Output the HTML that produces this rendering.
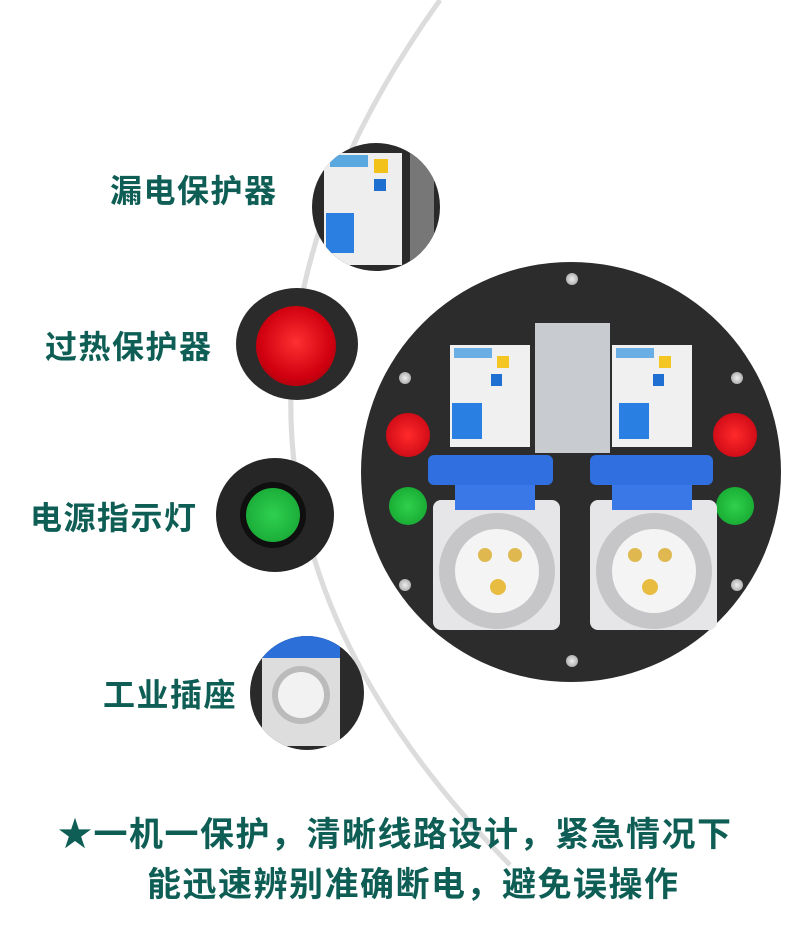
<!DOCTYPE html>
<html><head><meta charset="utf-8"><style>
body{margin:0;width:788px;height:944px;background:#fff;position:relative;overflow:hidden;font-family:"Liberation Sans","Noto Sans CJK SC",sans-serif}
.a{position:absolute}
.lab{position:absolute;color:#0e5e55;font-weight:bold;font-size:32px;letter-spacing:1.5px;white-space:nowrap;line-height:1}
.c{border-radius:50%}
.screw{position:absolute;width:12px;height:12px;border-radius:50%;background:radial-gradient(#eee,#999)}
</style></head><body>
<svg class="a" style="left:0;top:0" width="788" height="944"><path d="M440,0 Q110,460 510,865" fill="none" stroke="#dcdcdc" stroke-width="5"/></svg>

<div class="lab" style="left:110px;top:175px">漏电保护器</div>
<div class="lab" style="left:45px;top:331px">过热保护器</div>
<div class="lab" style="left:30px;top:502px">电源指示灯</div>
<div class="lab" style="left:103px;top:679px">工业插座</div>

<div class="a c" style="left:312px;top:143px;width:128px;height:128px;background:#2a2a2a;overflow:hidden">
 <div class="a" style="left:12px;top:10px;width:78px;height:112px;background:#eee"></div>
 <div class="a" style="left:18px;top:12px;width:38px;height:12px;background:#5aa8e0"></div>
 <div class="a" style="left:62px;top:16px;width:14px;height:14px;background:#f2c21a"></div>
 <div class="a" style="left:62px;top:36px;width:12px;height:12px;background:#1e6fd0"></div>
 <div class="a" style="left:14px;top:70px;width:28px;height:40px;background:#2a7fe0"></div>
 <div class="a" style="left:98px;top:10px;width:24px;height:110px;background:#777"></div>
</div>
<div class="a c" style="left:236px;top:288px;width:122px;height:112px;background:#2b2b2b"></div>
<div class="a c" style="left:256px;top:306px;width:80px;height:80px;background:radial-gradient(circle at 50% 45%,#ff3030,#d00010 60%,#8a0008)"></div>
<div class="a c" style="left:216px;top:458px;width:118px;height:114px;background:#262626"></div>
<div class="a c" style="left:240px;top:482px;width:66px;height:66px;background:#0f0f0f"></div>
<div class="a c" style="left:246px;top:488px;width:54px;height:54px;background:radial-gradient(#2ed050,#14a030)"></div>
<div class="a c" style="left:250px;top:636px;width:114px;height:114px;background:#2a2a2a;overflow:hidden">
 <div class="a" style="left:12px;top:0;width:78px;height:22px;background:#2c6fd8"></div>
 <div class="a" style="left:12px;top:22px;width:78px;height:88px;background:#ddd"></div>
 <div class="a c" style="left:22px;top:30px;width:58px;height:58px;background:#bbb"></div>
 <div class="a c" style="left:28px;top:36px;width:46px;height:46px;background:#f2f2f2"></div>
</div>

<div class="a c" style="left:361px;top:262px;width:420px;height:420px;background:#2c2c2c"></div>
<div class="screw" style="left:566px;top:273px"></div>
<div class="screw" style="left:566px;top:655px"></div>
<div class="screw" style="left:399px;top:372px"></div>
<div class="screw" style="left:731px;top:372px"></div>
<div class="screw" style="left:399px;top:579px"></div>
<div class="screw" style="left:731px;top:579px"></div>
<div class="a" style="left:535px;top:323px;width:75px;height:130px;background:#c8cbd0"></div>
<div class="a" style="left:450px;top:345px;width:80px;height:102px;background:#f0f0f0"></div>
<div class="a" style="left:454px;top:348px;width:38px;height:10px;background:#6aaee6"></div>
<div class="a" style="left:497px;top:356px;width:12px;height:12px;background:#f3c624"></div>
<div class="a" style="left:491px;top:374px;width:11px;height:12px;background:#1f6fd2"></div>
<div class="a" style="left:452px;top:403px;width:30px;height:36px;background:#2a80e2"></div>
<div class="a" style="left:612px;top:345px;width:80px;height:102px;background:#f0f0f0"></div>
<div class="a" style="left:616px;top:348px;width:38px;height:10px;background:#6aaee6"></div>
<div class="a" style="left:659px;top:356px;width:12px;height:12px;background:#f3c624"></div>
<div class="a" style="left:653px;top:374px;width:11px;height:12px;background:#1f6fd2"></div>
<div class="a" style="left:619px;top:403px;width:30px;height:36px;background:#2a80e2"></div>
<div class="a c" style="left:386px;top:413px;width:44px;height:44px;background:radial-gradient(#ff2a2a,#c00010)"></div>
<div class="a c" style="left:713px;top:413px;width:44px;height:44px;background:radial-gradient(#ff2a2a,#c00010)"></div>
<div class="a c" style="left:389px;top:487px;width:38px;height:38px;background:radial-gradient(#30d04c,#10a02c)"></div>
<div class="a c" style="left:716px;top:487px;width:38px;height:38px;background:radial-gradient(#30d04c,#10a02c)"></div>
<div class="a" style="left:433px;top:500px;width:127px;height:130px;background:#e6e6e8;border-radius:8px"></div>
<div class="a" style="left:455px;top:480px;width:80px;height:30px;background:#3a78e8"></div>
<div class="a" style="left:428px;top:455px;width:125px;height:30px;background:#2f6fe0;border-radius:6px"></div>
<div class="a c" style="left:439px;top:513px;width:116px;height:116px;background:#c6c6c8"></div>
<div class="a c" style="left:455px;top:529px;width:84px;height:84px;background:#f4f4f4"></div>
<div class="a c" style="left:478px;top:548px;width:14px;height:14px;background:#e0b850"></div>
<div class="a c" style="left:508px;top:548px;width:14px;height:14px;background:#e0b850"></div>
<div class="a c" style="left:490px;top:579px;width:16px;height:16px;background:#e8bc40"></div>
<div class="a" style="left:590px;top:500px;width:127px;height:130px;background:#e6e6e8;border-radius:8px"></div>
<div class="a" style="left:612px;top:480px;width:80px;height:30px;background:#3a78e8"></div>
<div class="a" style="left:590px;top:455px;width:123px;height:30px;background:#2f6fe0;border-radius:6px"></div>
<div class="a c" style="left:596px;top:513px;width:116px;height:116px;background:#c6c6c8"></div>
<div class="a c" style="left:612px;top:529px;width:84px;height:84px;background:#f4f4f4"></div>
<div class="a c" style="left:628px;top:548px;width:14px;height:14px;background:#e0b850"></div>
<div class="a c" style="left:658px;top:548px;width:14px;height:14px;background:#e0b850"></div>
<div class="a c" style="left:642px;top:579px;width:16px;height:16px;background:#e8bc40"></div>

<div class="lab" style="left:58px;top:818px;font-size:34px;letter-spacing:1.5px">★一机一保护，清晰线路设计，紧急情况下</div>
<div class="lab" style="left:147px;top:868px;font-size:34px;letter-spacing:1.5px">能迅速辨别准确断电，避免误操作</div>
</body></html>
